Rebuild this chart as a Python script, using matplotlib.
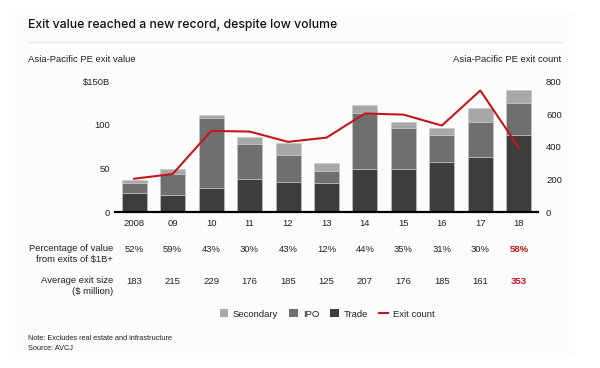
import matplotlib.pyplot as plt
from matplotlib.patches import Patch, Rectangle
from matplotlib.lines import Line2D
from matplotlib.transforms import blended_transform_factory

plt.rcParams['font.family'] = ['Liberation Sans', 'DejaVu Sans']

years = ['2008', '09', '10', '11', '12', '13', '14', '15', '16', '17', '18']
trade = [22, 19, 28, 38, 34, 33, 49, 50, 57, 63, 88]
ipo = [11.5, 25, 80, 40, 32, 14, 65, 46, 31, 40, 37]
secondary = [3.5, 5.5, 4, 8, 13, 9, 9, 8, 9, 16, 15]
exit_count = [204, 233, 497, 493, 430, 456, 604, 597, 530, 745, 395]
pct_big = ['52%', '59%', '43%', '30%', '43%', '12%', '44%', '35%', '31%', '30%', '58%']
avg_size = ['183', '215', '229', '176', '185', '125', '207', '176', '185', '161', '353']

c_sec = '#a8a8a8'
c_ipo = '#6f6f6f'
c_trade = '#3d3d3d'
c_red = '#c4161c'
fs = 6.8

fig = plt.figure(figsize=(6, 3.68), dpi=100)
fig.patch.set_facecolor('white')
fig.patches.append(Rectangle((15/600, 1-358/368), 560/600, 348/368, transform=fig.transFigure,
                             facecolor='#fcfcfc', edgecolor='none', zorder=-10))

ax = fig.add_axes([115/600, 1-212/368, 423/600, 130.5/368])
ax.set_facecolor('none')
x = list(range(len(years)))
w = 0.65
ec = dict(edgecolor='#c8c8c8', linewidth=0.4)
ax.bar(x, trade, w, color=c_trade, **ec)
ax.bar(x, ipo, w, bottom=trade, color=c_ipo, **ec)
ax.bar(x, secondary, w, bottom=[a + b for a, b in zip(trade, ipo)], color=c_sec, **ec)
ax.set_xlim(-0.5, 10.5)
ax.set_ylim(0, 150)
ax.set_yticks([0, 50, 100, 150])
ax.set_yticklabels(['0', '50', '100', '$150B'])
ax.set_xticks(x)
ax.set_xticklabels(years)
ax.tick_params(axis='both', length=0, labelsize=fs, colors='#222222')
ax.tick_params(axis='y', pad=3.6)
ax.tick_params(axis='x', pad=5)
for s in ['top', 'left', 'right']:
    ax.spines[s].set_visible(False)
ax.spines['bottom'].set_linewidth(1.6)
ax.spines['bottom'].set_color('black')

ax2 = ax.twinx()
ax2.plot(x, exit_count, color=c_red, lw=1.5)
ax2.set_ylim(0, 800)
ax2.set_yticks([0, 200, 400, 600, 800])
ax2.tick_params(axis='y', length=0, labelsize=fs, colors='#222222', pad=5.8)
for s in ['top', 'left', 'right', 'bottom']:
    ax2.spines[s].set_visible(False)

# title and separator
fig.text(28/600, 1-25/368, 'Exit value reached a new record, despite low volume',
         fontsize=8.8, fontweight='medium', family=['Inter', 'DejaVu Sans'], va='center', color='#111111')
fig.add_artist(Line2D([28/600, 562/600], [1-42/368, 1-42/368], color='#e6e6e6', lw=1))
fig.text(28/600, 1-59/368, 'Asia-Pacific PE exit value', fontsize=fs, va='center', color='#222222')
fig.text(561/600, 1-59/368, 'Asia-Pacific PE exit count', fontsize=fs, va='center', ha='right', color='#222222')

# table rows
tr = blended_transform_factory(ax.transData, fig.transFigure)
fig.text(113/600, 1-254/368, 'Percentage of value\nfrom exits of $1B+', fontsize=fs, ha='right', va='center',
         color='#222222', linespacing=1.3)
fig.text(113/600, 1-286/368, 'Average exit size\n($ million)', fontsize=fs, ha='right', va='center',
         color='#222222', linespacing=1.3)
for i in x:
    last = i == len(years) - 1
    kw = dict(color=c_red, fontweight='bold') if last else dict(color='#222222')
    ax.text(i, 1-249/368, pct_big[i], transform=tr, fontsize=fs, ha='center', va='center', **kw)
    ax.text(i, 1-281/368, avg_size[i], transform=tr, fontsize=fs, ha='center', va='center', **kw)

# legend
handles = [Patch(facecolor=c_sec), Patch(facecolor=c_ipo), Patch(facecolor=c_trade),
           Line2D([], [], color=c_red, lw=1.5)]
fig.legend(handles, ['Secondary', 'IPO', 'Trade', 'Exit count'], loc='center',
           bbox_to_anchor=(327/600, 1-314/368), ncol=4, frameon=False, fontsize=fs,
           handlelength=0.9, handleheight=0.9, handletextpad=0.5, columnspacing=1.2,
           labelcolor='#222222')

fig.text(28/600, 1-339/368, 'Note: Excludes real estate and infrastructure', fontsize=5.3,
         va='center', color='#222222')
fig.text(28/600, 1-348/368, 'Source: AVCJ', fontsize=5.3, va='center', color='#222222')

fig.savefig('out.png', dpi=100, facecolor=fig.get_facecolor())
